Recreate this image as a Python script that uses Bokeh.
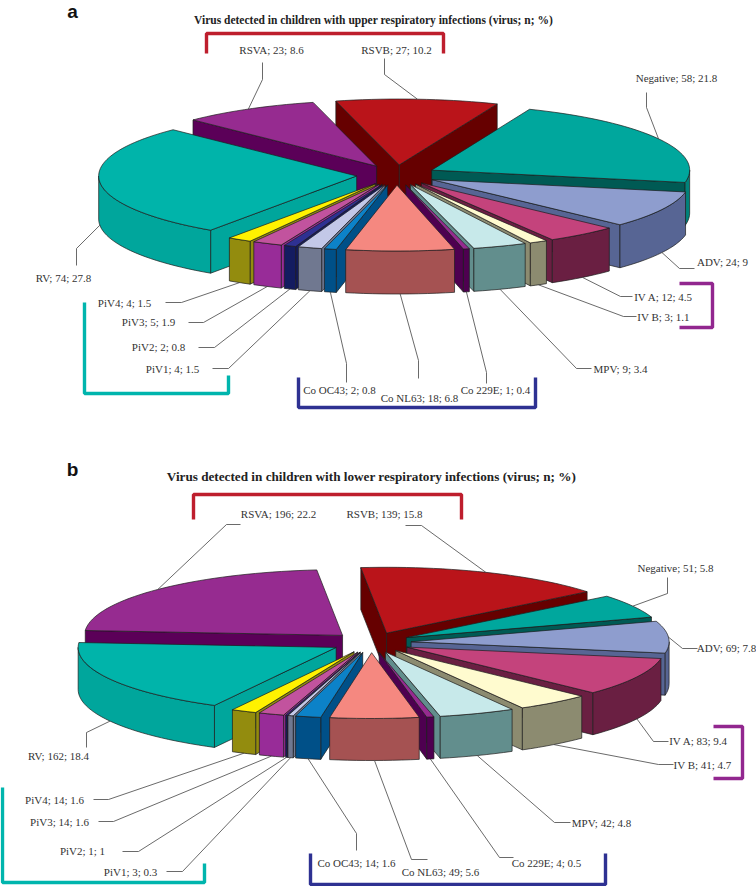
import math
from bokeh.plotting import figure
from bokeh.models import Range1d
from bokeh.core.properties import value
from bokeh.embed import file_html
from bokeh.resources import INLINE

# ---- data -----
names = ["Negative", "ADV", "IV A", "IV B", "MPV", "Co 229E", "Co NL63", "Co OC43",
         "PiV1", "PiV2", "PiV3", "PiV4", "RV", "RSVA", "RSVB"]
upper_n = [58, 24, 12, 3, 9, 1, 18, 2, 4, 2, 5, 4, 74, 23, 27]
upper_pct = ["21.8", "9", "4.5", "1.1", "3.4", "0.4", "6.8", "0.8", "1.5", "0.8", "1.9", "1.5", "27.8", "8.6", "10.2"]
lower_n = [51, 69, 83, 41, 42, 4, 49, 14, 3, 1, 14, 14, 162, 196, 139]
lower_pct = ["5.8", "7.8", "9.4", "4.7", "4.8", "0.5", "5.6", "1.6", "0.3", "1", "1.6", "1.6", "18.4", "22.2", "15.8"]

top_colors = ["#00A79D", "#8E9DCE", "#C4437C", "#FFFBCF", "#C7E9EA", "#962B90", "#F58880", "#0C82C8",
              "#C3C8E8", "#2E3192", "#C2539E", "#FFF200", "#00B4AA", "#962B90", "#BA141A"]
radial_colors = ["#005A54", "#576594", "#6A1F42", "#8C8B70", "#628E8D", "#4E0050", "#A55252", "#005088",
                 "#707890", "#141C60", "#982C98", "#938C0E", "#00A69C", "#5B0058", "#660000"]
rim_colors = ["#00827A", "#576594", "#6A1F42", "#8C8B70", "#628E8D", "#4E0050", "#A55252", "#005088",
              "#707890", "#141C60", "#982C98", "#938C0E", "#00A69C", "#5B0058", "#660000"]

# ---- layout (pixel space of the page) ----
R, K, EXPLODE = 258.0, 0.255, 40.0
upper_geo = dict(cx=396.0, cy=174.5, start=22.3, depth=43.0)
lower_geo = dict(cx=370.7, cy=642.0, start=51.0, depth=42.0)

upper_labels = [(676, 77), (722, 261), (663, 296), (663, 316), (620, 368), (495, 389), (419, 397), (339, 389),
                (172, 368), (158, 346), (148, 321), (124, 302), (63, 277), (271, 49), (396, 49)]
upper_leaders = [((646, 107), (646, 92)), ((679, 268), (694, 268)), ((620, 296), (632, 296)), ((623, 316), (636, 316)),
                 ((576, 368), (591, 368)), ((486, 372), (486, 383)), ((418, 360), (418, 378)), ((346, 363), (346, 382)),
                 ((228, 368), (212, 368)), ((214, 347), (198, 347)), ((203, 322), (188, 322)), ((181, 302), (165, 302)),
                 ((76, 248), (76, 265)), ((262, 79), (262, 62)), ((384, 74), (384, 58))]
lower_labels = [(675, 567), (726, 647), (698, 740), (702, 764), (601, 822), (546, 862), (440, 871), (356, 862),
                (130, 871), (82, 850), (59, 821), (54, 799), (58, 755), (278, 513), (384, 513)]
lower_leaders = [((667, 593), (667, 577)), ((682, 648), (697, 648)), ((653, 741), (668, 741)), ((658, 764), (673, 764)),
                 ((554, 822), (570, 822)), ((499, 857), (513, 857)), ((411, 859), (427, 859)), ((356, 833), (356, 850)),
                 ((182, 871), (166, 871)), ((138, 851), (122, 851)), ((113, 821), (98, 821)), ((108, 799), (93, 799)),
                 ((86, 732), (86, 747)), ((226, 524), (240, 524)), ((421, 525), (405, 525))]

brackets = [
    ("#BE1E2D", [206, 206, 443, 443], [53, 33, 33, 53]),
    ("#92278F", [679, 712, 712, 679], [283, 283, 327, 327]),
    ("#00B5AD", [84, 84, 228, 228], [302, 393, 393, 375]),
    ("#2E3192", [298, 298, 535, 535], [377, 407, 407, 377]),
    ("#BE1E2D", [193, 193, 461, 461], [519, 494, 494, 519]),
    ("#92278F", [713, 742, 742, 713], [726, 726, 778, 778]),
    ("#00B5AD", [2, 2, 204, 204], [787, 882, 882, 863]),
    ("#2E3192", [310, 310, 605, 605], [853, 884, 884, 853]),
]

p = figure(width=756, height=886, output_backend="svg", toolbar_location=None,
           x_range=Range1d(0, 756), y_range=Range1d(886, 0), min_border=0,
           background_fill_color="white", border_fill_color="white")
p.axis.visible = False
p.grid.visible = False
p.outline_line_color = None


def pt(ax, ay, ang, r):
    a = math.radians(ang)
    return ax + r * math.sin(a), ay - r * math.cos(a) * K


def draw_pie(ns, geo, labels, pcts, leaders):
    total = sum(ns)
    cum = geo["start"]
    slices = []
    for i, n in enumerate(ns):
        a0 = cum
        a1 = cum + 360.0 * n / total
        cum = a1
        slices.append((i, a0, a1, (a0 + a1) / 2))
    d = geo["depth"]
    xs, ys, fills = [], [], []
    for i, a0, a1, mid in sorted(slices, key=lambda s: -math.cos(math.radians(s[3]))):
        ax, ay = pt(geo["cx"], geo["cy"], mid, EXPLODE)
        # radial walls, where they face the viewer
        for wall, normal in ((a0, a0 - 90), (a1, a1 + 90)):
            if math.cos(math.radians(normal)) < 0:
                ox, oy = pt(ax, ay, wall, R)
                xs.append([ax, ox, ox, ax])
                ys.append([ay, oy, oy + d, ay + d])
                fills.append(radial_colors[i])
        # curved rim, front part only
        arcs = []
        for lo, hi in ((90, 270), (450, 630)):
            s, e = max(a0, lo), min(a1, hi)
            if e > s:
                arcs.append((s, e))
        for s, e in arcs:
            steps = max(3, int((e - s) / 2))
            pts = [pt(ax, ay, s + (e - s) * j / steps, R) for j in range(steps + 1)]
            xs.append([q[0] for q in pts] + [q[0] for q in reversed(pts)])
            ys.append([q[1] for q in pts] + [q[1] + d for q in reversed(pts)])
            fills.append(rim_colors[i])
        # top face
        steps = max(3, int((a1 - a0) / 2))
        pts = [pt(ax, ay, a0 + (a1 - a0) * j / steps, R) for j in range(steps + 1)]
        xs.append([ax] + [q[0] for q in pts])
        ys.append([ay] + [q[1] for q in pts])
        fills.append(top_colors[i])
    p.patches(xs, ys, fill_color=fills, line_color="#1c1c1c", line_width=0.7)

    # leader lines: rim anchor -> elbow -> label
    lx, ly = [], []
    for (i, a0, a1, mid), (elbow, end) in zip(slices, leaders):
        ax, ay = pt(geo["cx"], geo["cy"], mid, EXPLODE)
        bx, by = pt(ax, ay, mid, R)
        if math.cos(math.radians(mid)) < 0:
            by += d
        lx.append([bx, elbow[0], end[0]])
        ly.append([by, elbow[1], end[1]])
    p.multi_line(lx, ly, line_color="#444444", line_width=0.8)

    texts = [f"{names[i]}; {ns[i]}; {pcts[i]}" for i in range(len(ns))]
    p.text([q[0] for q in labels], [q[1] for q in labels], text=texts,
           text_font=value("Liberation Serif"), text_font_size="11px", text_color="#333333",
           text_align="center", text_baseline="middle")


draw_pie(upper_n, upper_geo, upper_labels, upper_pct, upper_leaders)
draw_pie(lower_n, lower_geo, lower_labels, lower_pct, lower_leaders)

for col, bx, by in brackets:
    p.line(bx, by, line_color=col, line_width=3.4)

p.text([373], [19], text=["Virus detected in children with upper respiratory infections (virus; n; %)"],
       text_font=value("Liberation Serif"), text_font_style="bold", text_font_size="11.5px", text_color="#222222",
       text_align="center", text_baseline="middle")
p.text([371], [476], text=["Virus detected in children with lower respiratory infections (virus; n; %)"],
       text_font=value("Liberation Serif"), text_font_style="bold", text_font_size="13.2px", text_color="#222222",
       text_align="center", text_baseline="middle")
p.text([72, 72], [11, 469], text=["a", "b"],
       text_font=value("Liberation Sans"), text_font_style="bold", text_font_size="19px", text_color="#111111",
       text_align="center", text_baseline="middle")

open("out.html", "w").write(file_html(p, INLINE))
